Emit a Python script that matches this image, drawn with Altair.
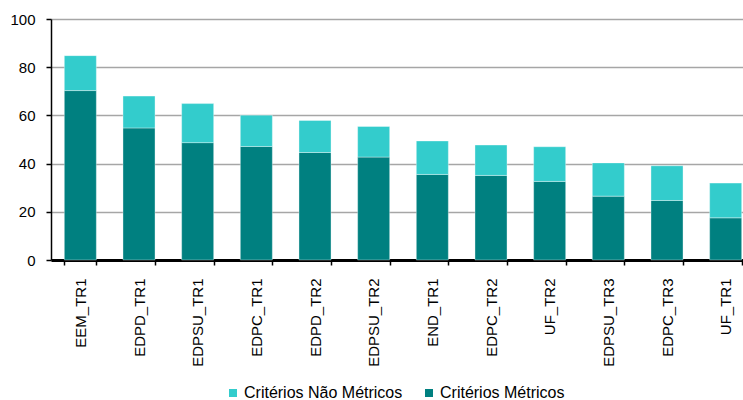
import altair as alt
import pandas as pd

categories = ["EEM_TR1", "EDPD_TR1", "EDPSU_TR1", "EDPC_TR1", "EDPD_TR2", "EDPSU_TR2",
              "END_TR1", "EDPC_TR2", "UF_TR2", "EDPSU_TR3", "EDPC_TR3", "UF_TR1"]
metricos = [70.3, 54.8, 48.7, 47.1, 44.6, 42.7, 35.5, 35.1, 32.6, 26.5, 24.7, 17.5]
nao_metricos = [14.5, 13.2, 16.2, 13.0, 13.3, 12.7, 13.9, 12.6, 14.4, 13.8, 14.4, 14.4]
series = ["Critérios Não Métricos", "Critérios Métricos"]
colors = ["#33CCCC", "#008080"]
y_ticks = [0, 20, 40, 60, 80, 100]

rows = []
for c, m, n in zip(categories, metricos, nao_metricos):
    rows.append({"cat": c, "serie": series[1], "valor": m, "ord": 0})
    rows.append({"cat": c, "serie": series[0], "valor": n, "ord": 1})
df = pd.DataFrame(rows)

FONT = "Liberation Sans"

chart = alt.Chart(df).mark_bar(stroke="white", strokeWidth=0.6, strokeOpacity=0.6).encode(
    x=alt.X("cat:N", sort=categories, title=None,
            scale=alt.Scale(paddingInner=0.454, paddingOuter=0.227, range=[0, 704]),
            axis=alt.Axis(labelAngle=-90, labelFontSize=15, labelFont=FONT, labelColor="#000",
                          tickBand="extent", tickSize=5, tickColor="#000", tickWidth=1.5,
                          domainColor="#000", domainWidth=3, labelPadding=13,
                          labelBaseline="middle", labelAlign="right", grid=False)),
    y=alt.Y("valor:Q", stack="zero", title=None,
            scale=alt.Scale(domain=[0, 100], nice=False),
            axis=alt.Axis(values=y_ticks, labelFontSize=15, labelFont=FONT, labelColor="#000",
                          tickSize=5, tickColor="#000", tickWidth=1.5, domainColor="#000",
                          domainWidth=1.5, labelPadding=11, grid=True, gridColor="#a6a6a6",
                          gridWidth=1.5)),
    color=alt.Color("serie:N", scale=alt.Scale(domain=series, range=colors), title=None,
                    legend=alt.Legend(orient="none", legendX=174, legendY=366,
                                      direction="horizontal", symbolType="square",
                                      symbolSize=64, symbolStrokeWidth=0,
                                      labelFontSize=16, labelFont=FONT, labelColor="#000",
                                      labelOffset=3, columnPadding=18)),
    order=alt.Order("ord:Q"),
).properties(
    width=692, height=241,
    autosize=alt.AutoSizeParams(type="none"),
    padding={"left": 51, "top": 19, "right": 0, "bottom": 140},
).configure_view(stroke=None)

chart.save("out.html", embed_options={"renderer": "svg", "actions": False})
